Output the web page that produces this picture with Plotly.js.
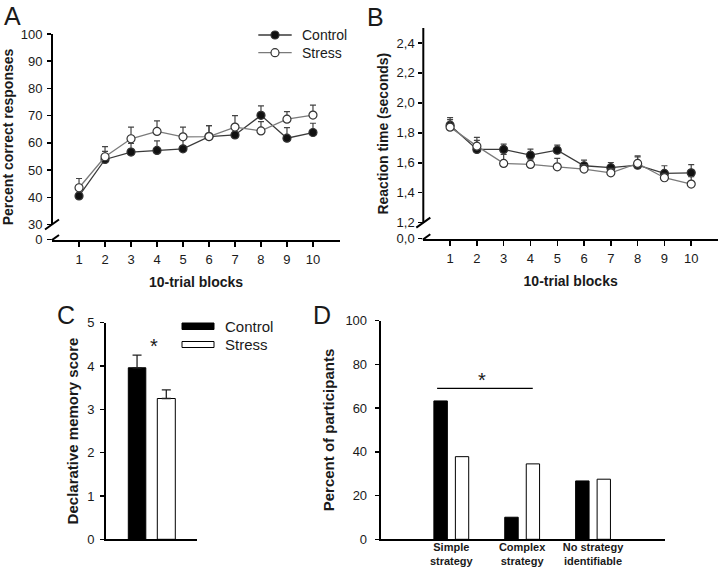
<!DOCTYPE html>
<html><head><meta charset="utf-8">
<script src="https://cdn.plot.ly/plotly-3.0.1.min.js"></script>
<style>html,body{margin:0;padding:0;background:#fff}#chart{width:720px;height:570px}</style>
</head><body><div id="chart"></div>
<script>
// ---- Panel A / B data ----
const blocks = [1, 2, 3, 4, 5, 6, 7, 8, 9, 10];
const accControl    = [40.5, 53.9, 56.6, 57.2, 57.8, 62.3, 62.9, 70.1, 61.7, 63.8];
const accControlErr = [3.0, 3.0, 3.2, 3.5, 3.6, 4.0, 3.5, 3.5, 3.9, 3.4];
const accStress     = [43.5, 54.9, 61.5, 64.2, 62.2, 62.3, 65.8, 64.4, 68.7, 70.2];
const accStressErr  = [3.4, 3.7, 4.3, 3.9, 3.6, 4.0, 4.2, 3.4, 2.8, 3.7];
const rtControl     = [1.851, 1.689, 1.689, 1.651, 1.684, 1.580, 1.567, 1.584, 1.529, 1.533];
const rtControlErr  = [0.050, 0.060, 0.035, 0.040, 0.034, 0.038, 0.035, 0.055, 0.051, 0.054];
const rtStress      = [1.838, 1.711, 1.596, 1.589, 1.573, 1.558, 1.533, 1.596, 1.500, 1.458];
const rtStressErr   = [0.050, 0.058, 0.060, 0.030, 0.056, 0.030, 0.030, 0.050, 0.030, 0.050];
const groupNames = ["Control", "Stress"];

// ---- Panel C data ----
const cCategory = ["score"];
const memoryControl = [3.96];
const memoryControlErr = [0.29];
const memoryStress = [3.25];
const memoryStressErr = [0.20];

// ---- Panel D data ----
const strategies = ["Simple<br>strategy", "Complex<br>strategy", "No strategy<br>identifiable"];
const strategyControl = [63.3, 10.1, 26.7];
const strategyStress  = [37.8, 34.5, 27.5];

// ---- tick labels ----
const aTickVals = [24.4, 30, 40, 50, 60, 70, 80, 90, 100];
const aTickText = ["0", "30", "40", "50", "60", "70", "80", "90", "100"];
const bTickVals = [1.095, 1.2, 1.4, 1.6, 1.8, 2.0, 2.2, 2.4];
const bTickText = ["0,0", "1,2", "1,4", "1,6", "1,8", "2,0", "2,2", "2,4"];

const W = 720, H = 570;
const px = x => x / W;
const py = y => 1 - y / H;
const FONT = "Liberation Sans, Arial, sans-serif";
const TXT = "#1a1a1a";
const CTRL_LINE = "#3a3a3a", STRESS_LINE = "#7a7a7a";

const lineTrace = (x, y, err, name, xa, ya, filled) => ({
  type: "scatter", mode: "lines+markers", x: x, y: y, name: name,
  xaxis: xa, yaxis: ya, showlegend: false, cliponaxis: false,
  line: {color: filled ? CTRL_LINE : STRESS_LINE, width: 1.3},
  marker: {size: 8, color: filled ? "#111" : "#fff", line: {color: "#333", width: 1.2}},
  error_y: {type: "data", symmetric: false, array: err, arrayminus: [], color: "#444", thickness: 1.2, width: 3}
});

const data = [
  lineTrace(blocks, accControl, accControlErr, groupNames[0], "x", "y", true),
  lineTrace(blocks, accStress, accStressErr, groupNames[1], "x", "y", false),
  lineTrace(blocks, rtControl, rtControlErr, groupNames[0], "x2", "y2", true),
  lineTrace(blocks, rtStress, rtStressErr, groupNames[1], "x2", "y2", false),
  {type: "bar", x: cCategory, y: memoryControl, name: groupNames[0], xaxis: "x3", yaxis: "y3", showlegend: false,
   offset: -0.2345, width: 0.175, marker: {color: "#000", line: {color: "#000", width: 1}},
   error_y: {type: "data", symmetric: false, array: memoryControlErr, arrayminus: [], color: "#222", thickness: 1.3, width: 4.5}},
  {type: "bar", x: cCategory, y: memoryStress, name: groupNames[1], xaxis: "x3", yaxis: "y3", showlegend: false,
   offset: 0.0555, width: 0.18, marker: {color: "#fff", line: {color: "#000", width: 1}},
   error_y: {type: "data", symmetric: false, array: memoryStressErr, arrayminus: [], color: "#222", thickness: 1.3, width: 4.5}},
  {type: "bar", x: strategies, y: strategyControl, name: groupNames[0], xaxis: "x4", yaxis: "y4", showlegend: false,
   offset: -0.2455, width: 0.19, marker: {color: "#000", line: {color: "#000", width: 1}}},
  {type: "bar", x: strategies, y: strategyStress, name: groupNames[1], xaxis: "x4", yaxis: "y4", showlegend: false,
   offset: 0.058, width: 0.188, marker: {color: "#fff", line: {color: "#000", width: 1}}}
];

const tickFont = () => ({family: FONT, size: 13, color: TXT});
const titleFont = (s) => ({family: FONT, size: s, color: TXT, weight: "bold"});
const baseAx = () => ({showgrid: false, zeroline: false, linecolor: "#000", linewidth: 2,
  tickcolor: "#000", tickwidth: 1.5, tickfont: tickFont(), automargin: false, fixedrange: true});

const layout = {
  width: W, height: H, margin: {l: 0, r: 0, t: 0, b: 0},
  paper_bgcolor: "#fff", plot_bgcolor: "rgba(0,0,0,0)",
  font: {family: FONT, color: TXT},
  showlegend: false,
  xaxis: Object.assign(baseAx(), {domain: [px(52), px(340)], range: [-0.04, 11.04], anchor: "y",
    tickvals: blocks, ticks: "outside", ticklen: 5, showline: true, ticklabelstandoff: 1,
    title: {text: "10-trial blocks", font: titleFont(14), standoff: 12}}),
  yaxis: Object.assign(baseAx(), {domain: [py(240), py(34)], range: [24.3, 100], anchor: "x",
    tickvals: aTickVals, ticktext: aTickText, ticks: "outside", ticklen: 4, showline: false, ticklabelstandoff: 2,
    title: {text: "Percent correct responses", font: titleFont(14), standoff: 3}}),
  xaxis2: Object.assign(baseAx(), {domain: [px(423.3), px(718)], range: [0, 11], anchor: "y2",
    tickvals: blocks, ticks: "outside", ticklen: 5, showline: true, ticklabelstandoff: 1,
    title: {text: "10-trial blocks", font: titleFont(14), standoff: 11}}),
  yaxis2: Object.assign(baseAx(), {domain: [py(239.3), py(28)], range: [1.089, 2.5], anchor: "x2",
    tickvals: bTickVals, ticktext: bTickText, ticks: "outside", ticklen: 4, showline: false, ticklabelstandoff: 1,
    title: {text: "Reaction time (seconds)", font: titleFont(14), standoff: 4}}),
  xaxis3: Object.assign(baseAx(), {domain: [px(106), px(197)], range: [-0.4575, 0.4525], anchor: "y3",
    type: "category", showticklabels: false, ticks: "", showline: true}),
  yaxis3: Object.assign(baseAx(), {domain: [py(539.3), py(322.7)], range: [0, 5], anchor: "x3",
    dtick: 1, ticks: "outside", ticklen: 4, showline: true, ticklabelstandoff: 3,
    title: {text: "Declarative memory score", font: titleFont(15), standoff: 5}}),
  xaxis4: Object.assign(baseAx(), {domain: [px(380.7), px(665)], range: [-0.996, 3.016], anchor: "y4",
    type: "category", ticks: "", showline: true, ticklabelstandoff: -4,
    tickfont: {family: FONT, size: 11, color: TXT, weight: "bold"}}),
  yaxis4: Object.assign(baseAx(), {domain: [py(539.3), py(320.7)], range: [0, 100], anchor: "x4",
    dtick: 20, ticks: "outside", ticklen: 4, showline: true, ticklabelstandoff: 5,
    title: {text: "Percent of participants", font: titleFont(15), standoff: 7}}),
  shapes: [],
  annotations: []
};

// axis-break y lines and slashes for panels A and B
function brokenAxis(xr, yr, top, breakVal, bottom) {
  layout.shapes.push({type: "line", xref: xr + " domain", yref: yr, x0: 0, x1: 0, y0: breakVal, y1: top,
    line: {color: "#000", width: 2}});
  [breakVal, bottom].forEach(v => layout.shapes.push({type: "line", xref: xr + " domain", yref: yr,
    xsizemode: "pixel", xanchor: 0, x0: -7, x1: 7, ysizemode: "pixel", yanchor: v, y0: -5, y1: 5,
    line: {color: "#000", width: 2}}));
}
brokenAxis("x", "y", 100, 30, 24.3);
brokenAxis("x2", "y2", 2.5, 1.2, 1.089);

// Panel A legend (line + marker swatches)
[[groupNames[0], 35, CTRL_LINE, "#111"], [groupNames[1], 52.7, STRESS_LINE, "#fff"]].forEach(([t, y, lc, mc]) => {
  layout.shapes.push({type: "line", xref: "paper", yref: "paper", x0: px(258.3), x1: px(291.7), y0: py(y), y1: py(y),
    line: {color: lc, width: 1.3}});
  layout.shapes.push({type: "circle", xref: "paper", yref: "paper", xsizemode: "pixel", ysizemode: "pixel",
    xanchor: px(275), yanchor: py(y), x0: -4, x1: 4, y0: -4, y1: 4, fillcolor: mc, line: {color: "#333", width: 1.2}});
  layout.annotations.push({xref: "paper", yref: "paper", x: px(300), y: py(y), xanchor: "left", yanchor: "middle",
    text: t, showarrow: false, font: {family: FONT, size: 14, color: TXT}});
});

// Panel C legend (bar swatches)
layout.shapes.push({type: "rect", xref: "paper", yref: "paper", x0: px(182), x1: px(214), y0: py(329.5), y1: py(323),
  fillcolor: "#000", line: {color: "#000", width: 1}});
layout.shapes.push({type: "rect", xref: "paper", yref: "paper", x0: px(182), x1: px(214), y0: py(347.5), y1: py(341.5),
  fillcolor: "#fff", line: {color: "#000", width: 1}});
layout.annotations.push({xref: "paper", yref: "paper", x: px(223), y: py(326), xanchor: "left", yanchor: "middle",
  text: groupNames[0], showarrow: false, font: {family: FONT, size: 15, color: TXT}});
layout.annotations.push({xref: "paper", yref: "paper", x: px(223), y: py(344.5), xanchor: "left", yanchor: "middle",
  text: groupNames[1], showarrow: false, font: {family: FONT, size: 15, color: TXT}});

// significance marks
layout.annotations.push({xref: "paper", yref: "paper", x: px(153.5), y: py(346), xanchor: "center", yanchor: "middle",
  text: "*", showarrow: false, font: {family: FONT, size: 20, color: TXT}});
layout.shapes.push({type: "line", xref: "x4", yref: "y4", x0: -0.2, x1: 1.15, y0: 69, y1: 69,
  line: {color: "#000", width: 1.2}});
layout.annotations.push({xref: "x4", yref: "y4", x: 0.44, y: 69, xanchor: "center", yanchor: "bottom", yshift: -5,
  text: "*", showarrow: false, font: {family: FONT, size: 20, color: TXT}});

// panel letters
[["A", 12, 0], ["B", 375, 1], ["C", 66, 299], ["D", 322, 299]].forEach(([t, x, y]) =>
  layout.annotations.push({xref: "paper", yref: "paper", x: px(x), y: py(y), xanchor: "center", yanchor: "top",
    text: t, showarrow: false, font: {family: FONT, size: 25, color: TXT}}));

Plotly.newPlot("chart", data, layout, {staticPlot: true, displayModeBar: false});
</script>
</body></html>
